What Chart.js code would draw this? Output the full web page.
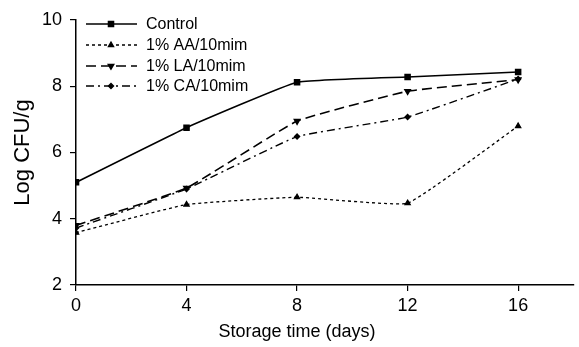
<!DOCTYPE html>
<html>
<head>
<meta charset="utf-8">
<script src="https://cdn.jsdelivr.net/npm/chart.js@4/dist/chart.umd.min.js"></script>
<style>
  html, body { margin: 0; padding: 0; background: #fff; }
  #wrap { width: 579px; height: 347px; }
</style>
</head>
<body>
<div id="wrap"><canvas id="chart" width="579" height="347"></canvas></div>
<script>
// Lagertage (x-Werte)
const days = [0, 4, 8, 12, 16];

// Serien (Log CFU/g)
const control = [5.1, 6.75, 8.12, 8.28, 8.43];
const aa = [3.58, 4.43, 4.65, 4.47, 6.8];
const la = [3.8, 4.93, 6.95, 7.85, 8.2];
const ca = [3.72, 4.9, 6.48, 7.07, 8.22];

const seriesNames = ['Control', '1% AA/10mim', '1% LA/10mim', '1% CA/10mim'];

// Achsenbeschriftung
const xTicks = [0, 4, 8, 12, 16];
const yTicks = [2, 4, 6, 8, 10];
const xTitle = 'Storage time (days)';
const yTitle = 'Log CFU/g';

function toPoints(vals) {
  return days.map((d, i) => ({ x: d, y: vals[i] }));
}

const font = 'Liberation Sans, Arial, sans-serif';

// eigene Legende oben links im Diagramm + x-Achsentitel (leicht links versetzt wie im Original)
const innerLegend = {
  id: 'innerLegend',
  afterDraw(chart) {
    const ctx = chart.ctx;
    const rows = [24, 45, 66, 86];
    chart.data.datasets.forEach((ds, i) => {
      const y = rows[i];
      ctx.save();
      ctx.strokeStyle = '#000';
      ctx.lineWidth = ds.borderWidth;
      ctx.setLineDash(ds.borderDash || []);
      ctx.beginPath();
      ctx.moveTo(86, y);
      ctx.lineTo(137, y);
      ctx.stroke();
      ctx.setLineDash([]);
      Chart.helpers.drawPoint(ctx, {
        pointStyle: ds.pointStyle,
        radius: ds.pointRadius,
        rotation: ds.pointRotation || 0,
        borderWidth: 1
      }, 111, y);
      ctx.fillStyle = '#000';
      ctx.font = '16px ' + font;
      ctx.textBaseline = 'middle';
      ctx.fillText(ds.label, 146, y + 1);
      ctx.restore();
    });

    ctx.save();
    ctx.fillStyle = '#000';
    ctx.font = '18px ' + font;
    ctx.textAlign = 'center';
    ctx.textBaseline = 'middle';
    ctx.fillText(xTitle, 297, 332);
    ctx.restore();
  }
};

const ctx = document.getElementById('chart').getContext('2d');
new Chart(ctx, {
  type: 'line',
  data: {
    datasets: [
      {
        label: seriesNames[0], data: toPoints(control),
        borderColor: '#000', backgroundColor: '#000', borderWidth: 1.6,
        pointStyle: 'rect', pointRadius: 3.5
      },
      {
        label: seriesNames[1], data: toPoints(aa),
        borderColor: '#000', backgroundColor: '#000', borderWidth: 1.3,
        borderDash: [3, 3], pointStyle: 'triangle', pointRadius: 3
      },
      {
        label: seriesNames[2], data: toPoints(la),
        borderColor: '#000', backgroundColor: '#000', borderWidth: 1.6,
        borderDash: [10, 5], pointStyle: 'triangle', pointRotation: 180, pointRadius: 3
      },
      {
        label: seriesNames[3], data: toPoints(ca),
        borderColor: '#000', backgroundColor: '#000', borderWidth: 1.4,
        borderDash: [8, 4, 2, 4], pointStyle: 'rectRot', pointRadius: 2.5
      }
    ]
  },
  options: {
    responsive: false,
    animation: false,
    layout: { padding: { top: 20, right: 2, left: 0, bottom: 0 } },
    elements: { line: { tension: 0.1 } },
    plugins: { legend: { display: false }, tooltip: { enabled: false } },
    scales: {
      x: {
        type: 'linear', min: 0, max: 18,
        afterBuildTicks(scale) { scale.ticks = xTicks.map(v => ({ value: v })); },
        afterFit(scale) { scale.height = 62; },
        border: { color: '#000', width: 1.5 },
        grid: { drawOnChartArea: false, color: '#000', tickLength: 6, lineWidth: 1.2 },
        ticks: { color: '#000', font: { family: font, size: 18 }, padding: 4, maxRotation: 0 },
        title: { display: false }
      },
      y: {
        type: 'linear', min: 2, max: 10,
        afterBuildTicks(scale) { scale.ticks = yTicks.map(v => ({ value: v })); },
        afterFit(scale) { scale.width = 76; },
        border: { color: '#000', width: 1.5 },
        grid: { drawOnChartArea: false, color: '#000', tickLength: 6, lineWidth: 1.2 },
        ticks: { color: '#000', font: { family: font, size: 18 }, padding: 8 },
        title: { display: true, text: yTitle, color: '#000', font: { family: font, size: 22 }, padding: { top: 10, bottom: 0 } }
      }
    }
  },
  plugins: [innerLegend]
});
</script>
</body>
</html>
